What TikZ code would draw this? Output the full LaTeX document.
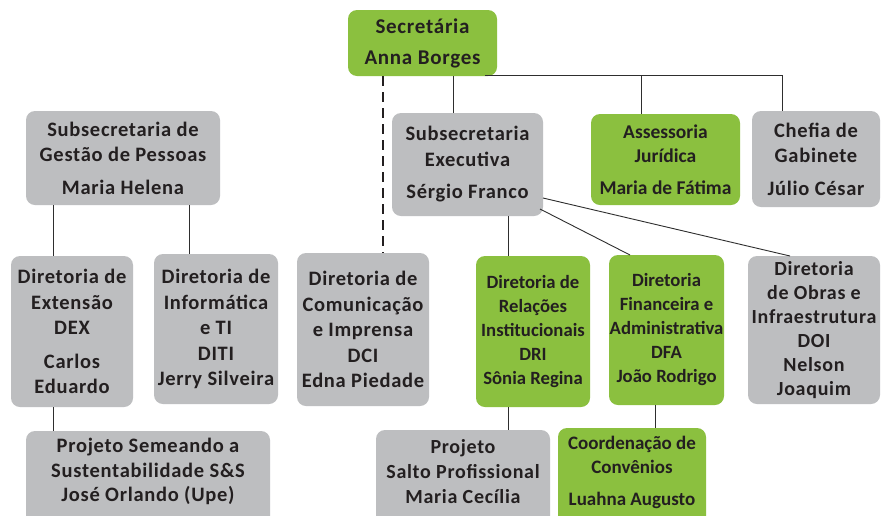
\documentclass[tikz,border=0pt]{standalone}
\usepackage{fontspec}
\setmainfont{Carlito}
\newfontfamily\spaced{Carlito}[LetterSpace=3.5]
\definecolor{grn}{HTML}{8BC03F}
\definecolor{gry}{HTML}{BDBEC0}
\definecolor{txt}{HTML}{231F20}
\definecolor{ln}{HTML}{2E2E2E}
\begin{document}
\begin{tikzpicture}[x=1pt,y=-1pt,
  box/.style={rounded corners=9pt, inner sep=0pt, align=center, text=txt},
  gbox/.style={box, fill=gry, font=\spaced\bfseries\fontsize{20.5}{25.5}\selectfont},
  lbox/.style={box, fill=grn, font=\bfseries\fontsize{19.5}{24}\selectfont},
  nbox/.style={box, fill=grn, font=\bfseries\fontsize{18.7}{24}\selectfont},
  plain/.style={inner sep=0pt, align=center, text=txt},
  link/.style={draw=ln, line width=0.9pt},
  dlink/.style={draw=txt, line width=2.5pt, dash pattern=on 10pt off 6pt}]
\useasboundingbox (0,0) rectangle (882,515);
\fill[white] (0,0) rectangle (882,515);

% top
\node[lbox, font=\spaced\bfseries\fontsize{21}{31}\selectfont, minimum width=149pt, minimum height=66pt] (sec) at (422.5,43) {Secretária\\Anna Borges};

% second row
\node[gbox, minimum width=194pt, minimum height=94pt] (ges) at (123,158) {Subsecretaria de\\Gestão de Pessoas\\[7pt]Maria Helena};
\node[gbox, minimum width=151pt, minimum height=103pt] (exe) at (467.5,164.5) {Subsecretaria\\Executiva\\[7pt]Sérgio Franco};
\node[lbox, minimum width=149pt, minimum height=91pt] (ass) at (665.5,159.5) {Assessoria\\Jurídica\\[8pt]Maria de Fátima};
\node[gbox, minimum width=128pt, minimum height=96pt] (che) at (816,159) {Chefia de\\Gabinete\\[7pt]Júlio César};

% third row
\node[gbox, minimum width=122pt, minimum height=151pt] (ext) at (72,331.5) {Diretoria de\\Extensão\\DEX\\[8pt]Carlos\\Eduardo};
\node[gbox, minimum width=124pt, minimum height=150pt] (inf) at (216,329) {Diretoria de\\Informática\\e TI\\DITI\\Jerry Silveira};
\node[gbox, minimum width=132pt, minimum height=153pt] (com) at (363,329.5) {Diretoria de\\Comunicação\\e Imprensa\\DCI\\Edna Piedade};
\node[nbox, minimum width=114pt, minimum height=151pt] (dri) at (533,331.5) {Diretoria de\\Relações\\Institucionais\\DRI\\Sônia Regina};
\node[nbox, minimum width=115pt, minimum height=150pt] (dfa) at (666.5,330) {Diretoria\\Financeira e\\Administrativa\\DFA\\João Rodrigo};
\node[gbox, font=\spaced\bfseries\fontsize{20}{24}\selectfont, minimum width=132pt, minimum height=148pt] (doi) at (814,330) {Diretoria\\de Obras e\\Infraestrutura\\DOI\\Nelson\\Joaquim};

% bottom row (cut by the page edge)
\node[gbox, minimum width=244pt, minimum height=100pt] (sem) at (148,481) {};
\node[plain, font=\spaced\bfseries\fontsize{20.5}{24.5}\selectfont] (semt) at (148,471.5) {Projeto Semeando a\\Sustentabilidade S\&S\\José Orlando (Upe)};
\node[gbox, minimum width=174pt, minimum height=100pt] (sal) at (463,480) {};
\node[plain, font=\spaced\bfseries\fontsize{20}{25}\selectfont] (salt) at (463,472) {Projeto\\Salto Profissional\\Maria Cecília};
\node[lbox, minimum width=148pt, minimum height=100pt] (coo) at (632,478) {};
\node[plain, font=\bfseries\fontsize{19}{24}\selectfont] (coot) at (632,472) {Coordenação de\\Convênios\\[8pt]Luahna Augusto};

% x positions of the connectors
\coordinate (xd) at (383,0);
\coordinate (xe) at (453,0);
\coordinate (xh) at (485,75);
\coordinate (xa) at (641,0);
\coordinate (xc) at (782,0);
\coordinate (xg1) at (53,0);
\coordinate (xg2) at (189,0);
\coordinate (xr) at (508,0);
\coordinate (xf) at (655,0);
\coordinate (e1) at (540,209);
\coordinate (e2) at (543,198);
\coordinate (f1) at (630,255);
\coordinate (o1) at (790,256);

% connectors
\draw[dlink] (sec.south -| xd) -- (com.north -| xd);
\draw[link] (sec.south -| xe) -- (exe.north -| xe);
\draw[link] (xh) -| (che.north -| xc);
\draw[link] (xh -| xa) -- (ass.north -| xa);
\draw[link] (ges.south -| xg1) -- (ext.north -| xg1);
\draw[link] (ges.south -| xg2) -- (inf.north -| xg2);
\draw[link] (exe.south -| xr) -- (dri.north -| xr);
\draw[link] (e1) -- (f1);
\draw[link] (e2) -- (o1);
\draw[link] (ext.south -| xg1) -- (sem.north -| xg1);
\draw[link] (dri.south -| xr) -- (sal.north -| xr);
\draw[link] (dfa.south -| xf) -- (coo.north -| xf);
\end{tikzpicture}
\end{document}
